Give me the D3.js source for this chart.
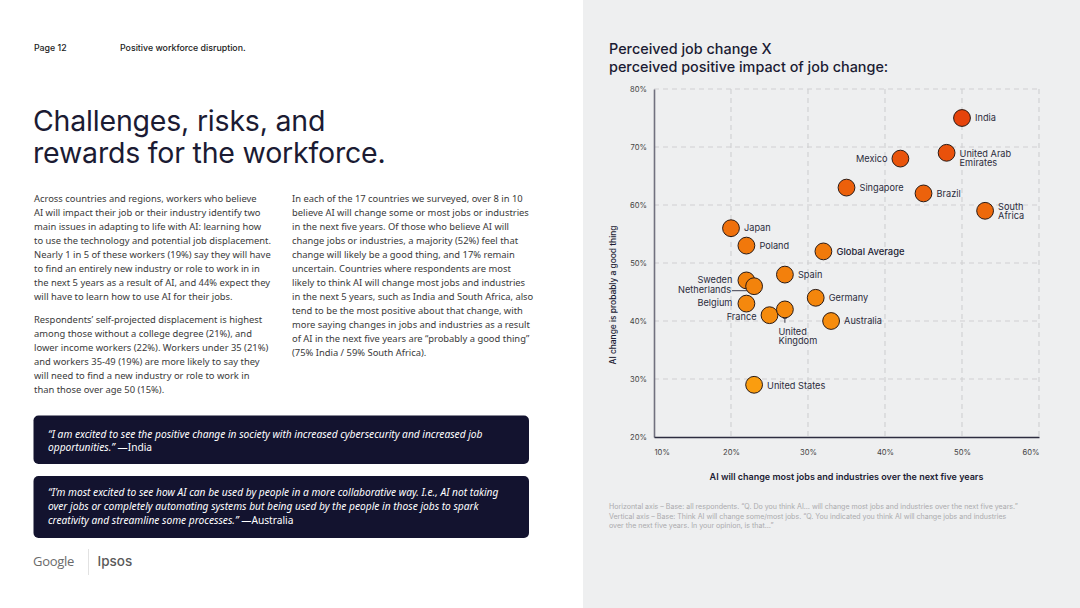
<!DOCTYPE html>
<html><head><meta charset="utf-8">
<script src="https://cdn.jsdelivr.net/npm/d3@7"></script>
<style>
html,body{margin:0;padding:0;background:#fff;}
svg{display:block;}
</style></head>
<body>
<svg id="page" width="1080" height="608"></svg>
<script>
// ---------- DATA ----------
const countries = ["India","United Arab Emirates","Mexico","Singapore","Brazil","South Africa","Japan","Poland","Global Average","Spain","Sweden","Netherlands","Belgium","France","United Kingdom","Germany","Australia","United States"];
const mostJobs  = [50,48,42,35,45,53,20,22,32,27,22,23,22,25,27,31,33,23];   // x: AI will change most jobs (%)
const goodThing = [75,69,68,63,62,59,56,53,52,48,47,46,43,41,42,44,40,29];   // y: probably a good thing (%)
const xTicks = [10,20,30,40,50,60];
const yTicks = [20,30,40,50,60,70,80];

const chartTitle = ["Perceived job change X","perceived positive impact of job change:"];
const xAxisTitle = "AI will change most jobs and industries over the next five years";
const yAxisTitle = "AI change is probably a good thing";
const footnote = [
  "Horizontal axis \u2013 Base: all respondents. \u201cQ. Do you think AI\u2026 will change most jobs and industries over the next five years.\u201d",
  "Vertical axis \u2013 Base: Think AI will change some/most jobs. \u201cQ. You indicated you think AI will change jobs and industries",
  "over the next five years. In your opinion, is that\u2026\u201d"
];
const headerPage = "Page 12";
const headerSection = "Positive workforce disruption.";
const headline = ["Challenges, risks, and","rewards for the workforce."];
const para1 = ["Across countries and regions, workers who believe","AI will impact their job or their industry identify two","main issues in adapting to life with AI: learning how","to use the technology and potential job displacement.","Nearly 1 in 5 of these workers (19%) say they will have","to find an entirely new industry or role to work in in","the next 5 years as a result of AI, and 44% expect they","will have to learn how to use AI for their jobs."];
const para2 = ["Respondents\u2019 self-projected displacement is highest","among those without a college degree (21%), and","lower income workers (22%). Workers under 35 (21%)","and workers 35-49 (19%) are more likely to say they","will need to find a new industry or role to work in","than those over age 50 (15%)."];
const para3 = ["In each of the 17 countries we surveyed, over 8 in 10","believe AI will change some or most jobs or industries","in the next five years. Of those who believe AI will","change jobs or industries, a majority (52%) feel that","change will likely be a good thing, and 17% remain","uncertain. Countries where respondents are most","likely to think AI will change most jobs and industries","in the next 5 years, such as India and South Africa, also","tend to be the most positive about that change, with","more saying changes in jobs and industries as a result","of AI in the next five years are \u201cprobably a good thing\u201d","(75% India / 59% South Africa)."];
const quote1 = [["\u201cI am excited to see the positive change in society with increased cybersecurity and increased job",""],["opportunities.\u201d ","\u2014India"]];
const quote2 = [["\u201cI\u2019m most excited to see how AI can be used by people in a more collaborative way. I.e., AI not taking",""],["over jobs or completely automating systems but being used by the people in those jobs to spark",""],["creativity and streamline some processes.\u201d ","\u2014Australia"]];

// ---------- LAYOUT (label placement) ----------
const labelLayout = {
  "India":{side:"right",lines:["India"],dy:[0]},
  "United Arab Emirates":{side:"right",lines:["United Arab","Emirates"],dy:[0.5,9.8]},
  "Mexico":{side:"left",lines:["Mexico"],dy:[0]},
  "Singapore":{side:"right",lines:["Singapore"],dy:[0]},
  "Brazil":{side:"right",lines:["Brazil"],dy:[0]},
  "South Africa":{side:"right",lines:["South","Africa"],dy:[-4.5,4.7]},
  "Japan":{side:"right",lines:["Japan"],dy:[0]},
  "Poland":{side:"right",lines:["Poland"],dy:[0]},
  "Global Average":{side:"right",lines:["Global Average"],dy:[0.5],strong:true},
  "Spain":{side:"right",lines:["Spain"],dy:[0]},
  "Sweden":{side:"left",lines:["Sweden"],dy:[-1],dx:-14},
  "Netherlands":{side:"leader",lines:["Netherlands"],dy:[4],tx:731},
  "Belgium":{side:"left",lines:["Belgium"],dy:[-0.5],dx:-14},
  "France":{side:"left",lines:["France"],dy:[2],dx:-13},
  "United Kingdom":{side:"below",lines:["United","Kingdom"],dy:[22,31]},
  "Germany":{side:"right",lines:["Germany"],dy:[0]},
  "Australia":{side:"right",lines:["Australia"],dy:[0]},
  "United States":{side:"right",lines:["United States"],dy:[1]}
};

const svg = d3.select("#page");
const ink = "#1b1b33";

// right panel background
svg.append("rect").attr("x",583).attr("y",0).attr("width",497).attr("height",608).attr("fill","#eeeff0");

// ---------- LEFT PAGE ----------
const sans = "'Inter','Roboto',sans-serif";
const body = "'Noto Sans','Open Sans',sans-serif";
svg.append("text").attr("x",34).attr("y",51).attr("font-family",sans).attr("font-size",8.8).attr("font-weight",500).attr("fill","#222").text(headerPage);
svg.append("text").attr("x",120).attr("y",51).attr("font-family",sans).attr("font-size",8.8).attr("font-weight",500).attr("fill","#222").text(headerSection);

svg.selectAll("text.head").data(headline).join("text").attr("class","head")
  .attr("x",33).attr("y",(d,i)=>131+i*32).attr("font-family",sans).attr("font-size",28.5)
  .attr("font-weight",400).attr("fill",ink).attr("letter-spacing",-0.2).text(d=>d);

function para(lines, x, y0, cls){
  svg.selectAll("text."+cls).data(lines).join("text").attr("class",cls)
    .attr("x",x).attr("y",(d,i)=>y0+i*14).attr("font-family",body).attr("font-size",9.4)
    .attr("fill","#3a3a3a").text(d=>d);
}
para(para1,34,201.5,"p1");
para(para2,34,322.5,"p2");
para(para3,292,201.5,"p3");

function quote(lines, y, h, y0){
  svg.append("rect").attr("x",33.5).attr("y",y).attr("width",495.5).attr("height",h).attr("rx",5).attr("fill","#13132f");
  lines.forEach((l,i)=>{
    const t = svg.append("text").attr("x",48).attr("y",y0+i*13.8).attr("font-family",body).attr("font-size",10.2).attr("fill","#fff");
    t.append("tspan").attr("font-style","italic").text(l[0]);
    if(l[1]) t.append("tspan").text(l[1]);
  });
}
quote(quote1,415.5,48.5,437.5);
quote(quote2,476,62,496);

svg.append("text").attr("x",33).attr("y",566).attr("font-family","'Open Sans',sans-serif").attr("font-size",13).attr("fill","#6a6a6a").attr("letter-spacing",-0.3).text("Google");
svg.append("line").attr("x1",88.5).attr("x2",88.5).attr("y1",549).attr("y2",575).attr("stroke","#e2e2e2");
svg.append("text").attr("x",97.5).attr("y",566).attr("font-family",sans).attr("font-size",13.5).attr("font-weight",500).attr("fill","#5a5a5a").text("Ipsos");

// ---------- CHART ----------
svg.selectAll("text.ctitle").data(chartTitle).join("text").attr("class","ctitle")
  .attr("x",609).attr("y",(d,i)=>54+i*18).attr("font-family",sans).attr("font-size",14.4)
  .attr("font-weight",500).attr("fill",ink).text(d=>d);

const x = d3.scaleLinear().domain([10,60]).range([654,1039]);
const y = d3.scaleLinear().domain([20,80]).range([437,89]);
const g = svg.append("g");

// grid
g.selectAll("line.vg").data(xTicks.slice(1)).join("line").attr("class","vg")
  .attr("x1",d=>x(d)).attr("x2",d=>x(d)).attr("y1",y(80)).attr("y2",y(20))
  .attr("stroke","#cfcfd2").attr("stroke-width",1.1).attr("stroke-dasharray","5,4");
g.selectAll("line.hg").data(yTicks.slice(1)).join("line").attr("class","hg")
  .attr("x1",x(10)).attr("x2",x(60)).attr("y1",d=>y(d)).attr("y2",d=>y(d))
  .attr("stroke","#cfcfd2").attr("stroke-width",1.1).attr("stroke-dasharray","5,4");

// axes via d3 axis generators
const yAxis = d3.axisLeft(y).tickValues(yTicks).tickSize(0).tickPadding(7).tickFormat(d=>d+"%");
const yg = g.append("g").attr("transform",`translate(${x(10)},0)`).call(yAxis);
yg.select(".domain").attr("stroke","#70707e").attr("stroke-width",1.6);
yg.selectAll("text").attr("font-family",sans).attr("font-size",7.6).attr("fill","#444");

const xAxis = d3.axisBottom(x).tickValues(xTicks).tickSize(0).tickPadding(13).tickFormat(d=>d+"%");
const xg = g.append("g").attr("transform",`translate(0,${y(20)})`).call(xAxis);
xg.select(".domain").attr("stroke","#2d2d40").attr("stroke-width",1.6);
xg.selectAll("text").attr("font-family",sans).attr("font-size",7.6).attr("fill","#444")
  .attr("text-anchor",(d,i)=> i===0 ? "start" : (i===xTicks.length-1 ? "end" : "middle"));

// axis titles
svg.append("text").attr("x",(x(10)+x(60))/2).attr("y",480).attr("text-anchor","middle")
  .attr("font-family",sans).attr("font-size",9).attr("font-weight",600).attr("fill",ink).text(xAxisTitle);
svg.append("text").attr("transform",`translate(616,${(y(20)+y(80))/2 + 32}) rotate(-90)`).attr("text-anchor","middle")
  .attr("font-family",sans).attr("font-size",8.4).attr("font-weight",500).attr("fill",ink).text(yAxisTitle);

// footnote
svg.selectAll("text.fn").data(footnote).join("text").attr("class","fn")
  .attr("x",609).attr("y",(d,i)=>509+i*9.6).attr("font-family",sans).attr("font-size",7.05)
  .attr("fill","#ababae").text(d=>d);

// points
const color = d3.scaleLinear().domain([29,52,75]).range(["#fa9d0f","#f17a0b","#e6430b"]);
const pts = countries.map((c,i)=>({name:c, x:mostJobs[i], y:goodThing[i]}));
const R = 8.4;

// leader lines
pts.forEach(p=>{
  const L = labelLayout[p.name];
  if(L.side==="leader"){
    g.append("line").attr("x1",L.tx+1).attr("x2",x(p.x)-7).attr("y1",y(p.y)+4.5).attr("y2",y(p.y)+4.5).attr("stroke","#2a2a3a").attr("stroke-width",0.9);
  }
  if(L.side==="below"){
    g.append("line").attr("x1",x(p.x)).attr("x2",x(p.x)).attr("y1",y(p.y)+R).attr("y2",y(p.y)+R+5).attr("stroke","#2a2a3a").attr("stroke-width",0.9);
    g.append("line").attr("x1",x(p.x)-2).attr("x2",x(p.x)+2).attr("y1",y(p.y)+R+0.5).attr("y2",y(p.y)+R+0.5).attr("stroke","#2a2a3a").attr("stroke-width",0.8);
  }
});

g.selectAll("circle.pt").data(pts).join("circle").attr("class","pt")
  .attr("cx",d=>x(d.x)).attr("cy",d=>y(d.y)).attr("r",R)
  .attr("fill",d=>color(d.y)).attr("stroke","#2a1a14").attr("stroke-width",1);

// labels
pts.forEach(p=>{
  const L = labelLayout[p.name];
  const cx = x(p.x), cy = y(p.y);
  let tx, anchor;
  if(L.side==="right"){ tx = cx + 13; anchor="start"; }
  else if(L.side==="left"){ tx = cx + (L.dx||-13); anchor="end"; }
  else if(L.side==="leader"){ tx = L.tx; anchor="end"; }
  else { tx = cx - 6.5; anchor="start"; }
  L.lines.forEach((ln,k)=>{
    g.append("text").attr("x",tx).attr("y",cy + L.dy[k]).attr("dy","0.35em")
      .attr("text-anchor",anchor).attr("font-family",sans)
      .attr("font-size",L.strong?9.4:9.2).attr("font-weight",L.strong?500:400)
      .attr("fill",L.strong?"#1b1b33":"#2b2b3b").text(ln);
  });
});
</script>
</body></html>
